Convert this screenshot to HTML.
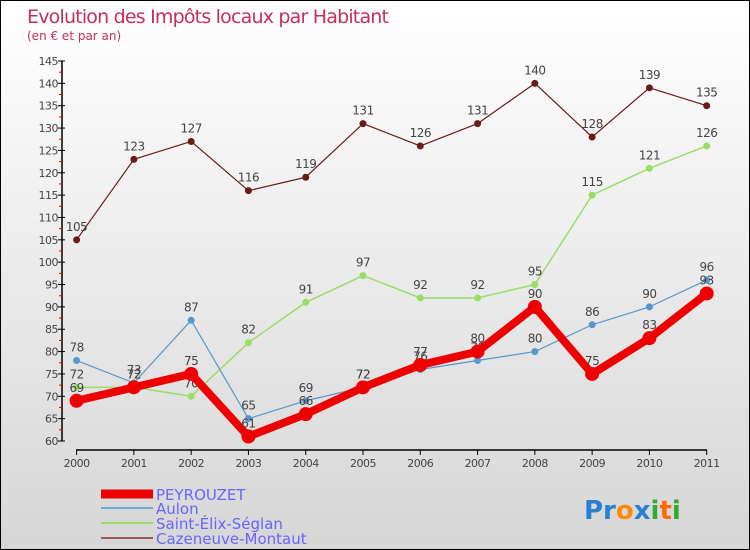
<!DOCTYPE html>
<html><head><meta charset="utf-8"><style>
body{margin:0}
#c{width:750px;height:550px;position:relative;overflow:hidden;box-sizing:border-box;border:1px solid #000;background:linear-gradient(#fff,#d6d6d6);font-family:"DejaVu Sans","Liberation Sans",sans-serif}
svg text{font-family:"DejaVu Sans","Liberation Sans",sans-serif}
</style></head><body>
<div id="c">
<svg id="s" width="750" height="550">
<text x="26" y="22" font-size="19" fill="#c4305a" textLength="362">Evolution des Impôts locaux par Habitant</text>
<text x="26" y="39" font-size="12" fill="#c4305a">(en € et par an)</text>
<g id="axes"></g><g id="series"></g>
<g>
<line x1="100" y1="493" x2="152" y2="493" stroke="#e00" stroke-width="9"/>
<text x="155" y="499" font-size="15" fill="#6666ff">PEYROUZET</text>
<line x1="100" y1="507" x2="152" y2="507" stroke="#6fa8d6" stroke-width="2"/>
<text x="155" y="513" font-size="15" fill="#6666ff">Aulon</text>
<line x1="100" y1="522" x2="152" y2="522" stroke="#99dd66" stroke-width="2"/>
<text x="155" y="528" font-size="15" fill="#6666ff">Saint-Élix-Séglan</text>
<line x1="100" y1="537" x2="152" y2="537" stroke="#9a5a5a" stroke-width="2"/>
<text x="155" y="543" font-size="15" fill="#6666ff">Cazeneuve-Montaut</text>
</g>
<text x="583" y="518" font-size="26" font-weight="bold"><tspan fill="#2a7fd0">Pr</tspan><tspan fill="#ff8a00">o</tspan><tspan fill="#2a7fd0">x</tspan><tspan fill="#33aa33">i</tspan><tspan fill="#ff6a00">t</tspan><tspan fill="#33aa33">i</tspan></text>
</svg></div>
<script>
const years=[2000,2001,2002,2003,2004,2005,2006,2007,2008,2009,2010,2011];
const yTicks=[60,65,70,75,80,85,90,95,100,105,110,115,120,125,130,135,140,145];
const peyrouzet=[69,72,75,61,66,72,77,80,90,75,83,93];
const aulon=[78,73,87,65,69,72,76,78,80,86,90,96];
const saintElix=[72,72,70,82,91,97,92,92,95,115,121,126];
const cazeneuve=[105,123,127,116,119,131,126,131,140,128,139,135];
const NS="http://www.w3.org/2000/svg";
const X=i=>75.6+i*(705.7-75.6)/(years.length-1);
const Y=v=>440-(v-60)*(380/85);
function mk(t,a,p){const e=document.createElementNS(NS,t);for(const k in a)e.setAttribute(k,a[k]);p.appendChild(e);return e;}
const ax=document.getElementById('axes');
let l=mk('line',{x1:61,y1:Y(145),x2:61,y2:Y(60),stroke:'#000','stroke-width':1.5},ax);


yTicks.forEach((v,k)=>{
 let t=mk('line',{x1:57,y1:Y(v),x2:64,y2:Y(v),stroke:'#000'},ax);
 
 
 if(k<yTicks.length-1){
 let m=mk('line',{x1:58,y1:Y(v+2.5),x2:61,y2:Y(v+2.5),stroke:'#e00'},ax);
 
 
 }
 let tx=mk('text',{x:57,y:Y(v)+4,'font-size':11,fill:'#444','text-anchor':'end','letter-spacing':'-0.5'},ax);
 tx.textContent=v;
 
 
});
l=mk('line',{x1:75,y1:449,x2:706,y2:449,stroke:'#000','stroke-width':1.5},ax);


years.forEach((yr,i)=>{
 let t=mk('line',{x1:X(i),y1:449,x2:X(i),y2:454,stroke:'#000'},ax);
 
 
 let tx=mk('text',{x:X(i),y:466,'font-size':11,fill:'#444','text-anchor':'middle','letter-spacing':'-0.5'},ax);
 tx.textContent=yr;
 
 
});
const sg=document.getElementById('series');
function series(vals,color,w,r,name){
 const g=mk('g',{},sg);
 
 
 const p=mk('polyline',{points:vals.map((v,i)=>X(i)+','+Y(v)).join(' '),fill:'none',stroke:color,'stroke-width':w,'stroke-linejoin':'round'},g);
 
 
 vals.forEach((v,i)=>{
  const c=mk('circle',{cx:X(i),cy:Y(v),r:r,fill:color},g);
  
  
  const t=mk('text',{x:X(i),y:Y(v)-9,'font-size':12,fill:'#444','text-anchor':'middle','letter-spacing':'-0.5'},g);
  t.textContent=v;
  
  
 });
}
series(cazeneuve,'#6b1a1a',1.2,3.5,'cazeneuve');
series(saintElix,'#99dd66',1.5,3.5,'saint-elix');
series(aulon,'#5599cc',1.2,3.5,'aulon');
series(peyrouzet,'#ee0000',8,7,'peyrouzet');
</script>
</body></html>
